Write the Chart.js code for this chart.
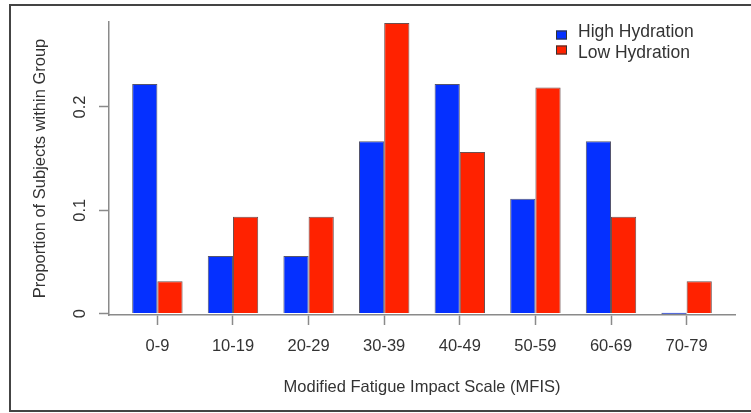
<!DOCTYPE html>
<html>
<head>
<meta charset="utf-8">
<title>MFIS by hydration group</title>
<script src="https://cdn.jsdelivr.net/npm/chart.js@4.4.1/dist/chart.umd.min.js"></script>
<style>
  html, body { margin: 0; padding: 0; background: #fff; overflow: hidden; }
  #wrap { position: relative; width: 751px; height: 413px; overflow: hidden; }
  #chart { position: absolute; left: 0; top: 0; }
  #frame {
    position: absolute; left: 9px; top: 4px; width: 800px; height: 408px;
    border: 2px solid #444; border-right: none; box-sizing: border-box;
  }
</style>
</head>
<body>
<div id="wrap">
  <canvas id="chart" width="751" height="413"></canvas>
  <div id="frame"></div>
</div>
<script>
// MFIS score bands and the share of each group falling in them
const categories = ["0-9", "10-19", "20-29", "30-39", "40-49", "50-59", "60-69", "70-79"];
const highHydration = [0.2222, 0.0556, 0.0556, 0.1667, 0.2222, 0.1111, 0.1667, 0];
const lowHydration = [0.03125, 0.09375, 0.09375, 0.28125, 0.15625, 0.21875, 0.09375, 0.03125];
const yTicks = [0, 0.1, 0.2];

const fontFamily = "'Liberation Sans', Arial, Helvetica, sans-serif";
Chart.defaults.font.family = fontFamily;
Chart.defaults.color = "#333";

// legend sits inside the plot, top right, like the R original
const cornerLegend = {
  id: "cornerLegend",
  afterDraw(chart) {
    let ctx = chart.ctx;
    ctx.save();
    ctx.font = "17.5px " + fontFamily;
    ctx.textBaseline = "middle";
    chart.data.datasets.forEach((ds, i) => {
      let boxY = 35 + i * 15;
      let textY = 32.5 + i * 20.5;
      ctx.fillStyle = ds.backgroundColor;
      ctx.fillRect(556, boxY - 4.5, 11, 9);
      ctx.strokeStyle = "#333";
      ctx.lineWidth = 1;
      ctx.strokeRect(556.5, boxY - 4, 10, 8);
      ctx.fillStyle = "#333";
      ctx.fillText(ds.label, 578, textY);
    });
    ctx.restore();
  }
};

const axisGrey = "#8a8a8a";

new Chart(document.getElementById("chart"), {
  type: "bar",
  data: {
    datasets: [
      {
        label: "High Hydration",
        data: highHydration.map((v, i) => ({ x: i, y: v })),
        backgroundColor: "#0530ff",
        borderColor: "rgba(30,30,60,0.75)",
        borderWidth: 1
      },
      {
        label: "Low Hydration",
        data: lowHydration.map((v, i) => ({ x: i, y: v })),
        backgroundColor: "#ff2200",
        borderColor: "rgba(60,20,20,0.75)",
        borderWidth: 1
      }
    ]
  },
  options: {
    responsive: false,
    animation: false,
    devicePixelRatio: 1,
    categoryPercentage: 2 / 3,
    barPercentage: 1,
    minBarLength: 1.5,
    layout: { padding: { left: 0, right: 16, top: 22, bottom: 0 } },
    plugins: {
      legend: { display: false },
      tooltip: { enabled: false }
    },
    scales: {
      x: {
        type: "linear",
        min: -0.64,
        max: 7.64,
        offset: false,
        afterBuildTicks: (axis) => {
          axis.ticks = categories.map((c, i) => ({ value: i }));
        },
        afterFit: (axis) => { axis.height = 98; },
        ticks: {
          callback: (v) => categories[v],
          autoSkip: false,
          maxRotation: 0,
          padding: 12,
          font: { size: 16.5 }
        },
        grid: {
          offset: false,
          drawOnChartArea: false,
          tickLength: 10,
          tickColor: axisGrey,
          tickWidth: 1.5
        },
        border: { display: true, color: axisGrey, width: 1.5 },
        title: {
          display: true,
          text: "Modified Fatigue Impact Scale (MFIS)",
          font: { size: 16.5 },
          padding: { top: 0, bottom: 16 }
        }
      },
      y: {
        min: -0.0014,
        max: 0.2822,
        afterBuildTicks: (axis) => {
          axis.ticks = yTicks.map((v) => ({ value: v }));
        },
        afterFit: (axis) => { axis.width = 109; },
        ticks: {
          minRotation: 90,
          maxRotation: 90,
          crossAlign: "center",
          padding: 7,
          callback: (v) => String(v),
          font: { size: 16.5 }
        },
        grid: {
          drawOnChartArea: false,
          tickLength: 10,
          tickColor: axisGrey,
          tickWidth: 1.5
        },
        border: { display: true, color: axisGrey, width: 1.5 },
        title: {
          display: true,
          text: "Proportion of Subjects within Group",
          font: { size: 16.5 },
          padding: { top: 31, bottom: 0 }
        }
      }
    }
  },
  plugins: [cornerLegend]
});
</script>
</body>
</html>
